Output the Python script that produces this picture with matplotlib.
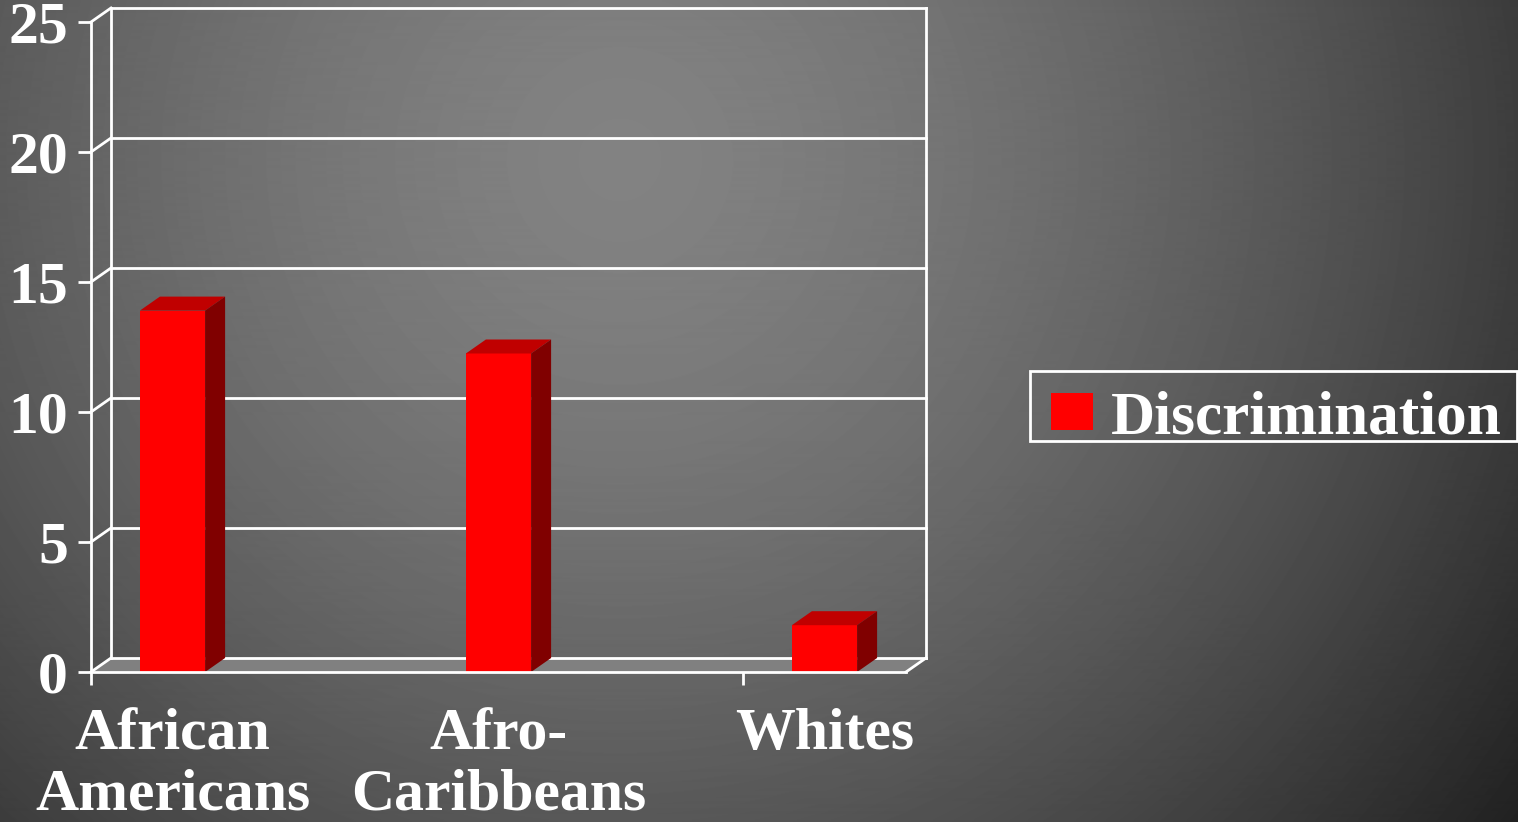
import numpy as np
import matplotlib
matplotlib.use("Agg")
import matplotlib.pyplot as plt
from matplotlib.patches import Polygon, Patch, Rectangle

# data
groups = ["African\nAmericans", "Afro-\nCaribbeans", "Whites"]
discrimination = [13.9, 12.25, 1.8]
y_ticks = [0, 5, 10, 15, 20, 25]
series_name = "Discrimination"

W, H = 1518, 822
plt.rcParams['font.family'] = ['Liberation Serif', 'DejaVu Serif']
plt.rcParams['font.weight'] = 'bold'
FS = 43

fig = plt.figure(figsize=(W / 100, H / 100), dpi=100)

# grey radial background like the slide
bg = fig.add_axes([0, 0, 1, 1], zorder=-10)
yy, xx = np.mgrid[0:H, 0:W]
d = np.hypot(xx - 620, yy - 160)
grad = np.clip(130 - 95 * (d / 1100) ** 1.6, 30, 255)
bg.imshow(grad, cmap='gray', vmin=0, vmax=255, aspect='auto')
bg.axis('off')

ax = fig.add_axes([91 / W, 150 / H, 815 / W, 650 / H])
ax.set_facecolor('none')
x0, x1 = -0.25, 2.25
ax.set_xlim(x0, x1)
ax.set_ylim(0, 25)

# depth of the fake 3d box, px -> data
ddx = 20 / 815 * (x1 - x0)
ddy = 14 / 650 * 25
wall = dict(color='white', lw=2, clip_on=False)

# floor
ax.add_patch(Polygon([(x0, 0), (x1, 0), (x1 + ddx, ddy), (x0 + ddx, ddy)],
                     closed=True, facecolor='#808080', edgecolor='none',
                     clip_on=False, zorder=1))
ax.plot([x1, x1 + ddx], [0, ddy], zorder=2, **wall)

# back wall gridlines and left diagonals
for t in y_ticks:
    ax.plot([x0 + ddx, x1 + ddx], [t + ddy, t + ddy], zorder=2, **wall)
    ax.plot([x0, x0 + ddx], [t, t + ddy], zorder=2, **wall)
ax.plot([x0 + ddx, x0 + ddx], [ddy, 25 + ddy], zorder=2, **wall)
ax.plot([x1 + ddx, x1 + ddx], [ddy, 25 + ddy], zorder=2, **wall)

# bars
xs = np.arange(len(groups))
bw = 0.2
ax.bar(xs, discrimination, width=bw, color='#ff0000', zorder=4)
for x, h in zip(xs, discrimination):
    l, r = x - bw / 2, x + bw / 2
    ax.add_patch(Polygon([(l, h), (r, h), (r + ddx, h + ddy), (l + ddx, h + ddy)],
                         closed=True, facecolor='#c00000', edgecolor='none',
                         clip_on=False, zorder=4))
    ax.add_patch(Polygon([(r, 0), (r + ddx, ddy), (r + ddx, h + ddy), (r, h)],
                         closed=True, facecolor='#800000', edgecolor='none',
                         clip_on=False, zorder=4))

# axes lines
for s in ['top', 'right']:
    ax.spines[s].set_visible(False)
for s in ['left', 'bottom']:
    ax.spines[s].set_color('white')
    ax.spines[s].set_linewidth(2)
    ax.spines[s].set_zorder(5)

ax.set_yticks(y_ticks)
ax.tick_params(axis='y', colors='white', length=9.5, width=2, pad=7,
               labelsize=FS)
ax.set_xticks(xs)
ax.set_xticklabels(groups, linespacing=1.15, va='top')
ax.set_xticks([-0.25, 1.75], minor=True)
ax.tick_params(axis='x', which='major', length=0, pad=26, labelsize=FS,
               colors='white')
ax.tick_params(axis='x', which='minor', length=9.5, width=2, color='white')
for lab in ax.get_xticklabels() + ax.get_yticklabels():
    lab.set_fontweight('bold')

# legend: frame drawn separately so the box can match the slide
fig.patches.append(Rectangle((1030 / W, 1 - 441 / H), 487 / W, 70 / H,
                             transform=fig.transFigure, fill=False,
                             edgecolor='white', lw=2))
leg = fig.legend(handles=[Patch(facecolor='#ff0000', edgecolor='none',
                                label=series_name)],
                 loc='center left', bbox_to_anchor=(1039 / W, 1 - 418 / H),
                 frameon=False, fontsize=44,
                 handlelength=0.69, handleheight=0.56, handletextpad=0.28,
                 borderpad=0.2, borderaxespad=0)
for t in leg.get_texts():
    t.set_color('white')
    t.set_fontweight('bold')

fig.savefig('out.png', dpi=100)
